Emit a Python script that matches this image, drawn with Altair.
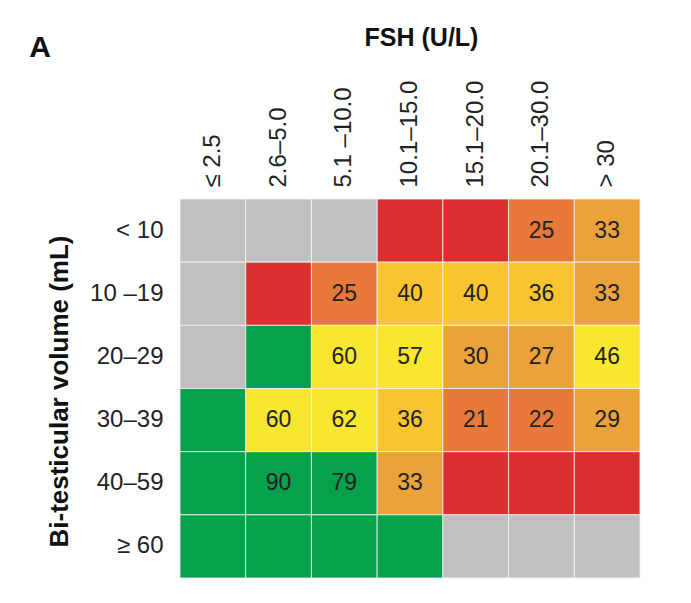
import altair as alt
import pandas as pd

fsh_bins = ["≤ 2.5", "2.6–5.0", "5.1 –10.0", "10.1–15.0", "15.1–20.0", "20.1–30.0", "> 30"]
volume_bins = ["< 10", "10 –19", "20–29", "30–39", "40–59", "≥ 60"]

# cell values (None = no number printed)
values = [
    [None, None, None, None, None, 25, 33],
    [None, None, 25, 40, 40, 36, 33],
    [None, None, 60, 57, 30, 27, 46],
    [None, 60, 62, 36, 21, 22, 29],
    [None, 90, 79, 33, None, None, None],
    [None, None, None, None, None, None, None],
]
# colour class of each cell
classes = [
    ["none", "none", "none", "red", "red", "dkorange", "orange"],
    ["none", "red", "dkorange", "ltorange", "ltorange", "ltorange", "orange"],
    ["none", "green", "yellow", "yellow", "orange", "orange", "yellow"],
    ["green", "yellow", "yellow", "ltorange", "dkorange", "dkorange", "orange"],
    ["green", "green", "green", "orange", "red", "red", "red"],
    ["green", "green", "green", "green", "none", "none", "none"],
]
class_names = ["none", "red", "dkorange", "orange", "ltorange", "yellow", "green"]
class_colors = ["#C0C0C0", "#DC2F32", "#E8793A", "#ECA23A", "#F9C42F", "#F9E62E", "#07A04C"]

rows = []
for i, v in enumerate(volume_bins):
    for j, f in enumerate(fsh_bins):
        val = values[i][j]
        rows.append({"fsh": f, "vol": v, "cls": classes[i][j],
                     "label": "" if val is None else str(val)})
df = pd.DataFrame(rows)

x = alt.X("fsh:N", sort=fsh_bins,
          scale=alt.Scale(domain=fsh_bins, paddingInner=0, paddingOuter=0),
          axis=alt.Axis(orient="top", title="FSH (U/L)", labelAngle=-90, labelPadding=12,
                        labelFontSize=24, labelColor="#222", ticks=False, domain=False,
                        titleFontSize=25, titleFontWeight="bold", titleColor="#111",
                        titleX=241, titleY=-149, titleAnchor="middle"))
y = alt.Y("vol:N", sort=volume_bins,
          scale=alt.Scale(domain=volume_bins, paddingInner=0, paddingOuter=0),
          axis=alt.Axis(title="Bi-testicular volume (mL)", labelPadding=17, labelFontSize=24,
                        labelColor="#222", ticks=False, domain=False,
                        titleFontSize=26, titleFontWeight="bold", titleColor="#111",
                        titleX=-108, titleY=192, titleAngle=-90, titleAnchor="middle"))

base = alt.Chart(df)
heat = base.mark_rect(stroke="#f4f4f4", strokeWidth=0.8).encode(
    x=x, y=y,
    color=alt.Color("cls:N", scale=alt.Scale(domain=class_names, range=class_colors), legend=None),
)
nums = base.mark_text(fontSize=23, color="#222", font="Liberation Sans").encode(
    x=alt.X("fsh:N", sort=fsh_bins), y=alt.Y("vol:N", sort=volume_bins), text="label:N"
)
panel = alt.Chart(pd.DataFrame({"t": ["A"]})).mark_text(
    fontSize=30, fontWeight="bold", color="#111", align="center", baseline="alphabetic",
    font="Liberation Sans"
).encode(text="t:N", x=alt.value(-140), y=alt.value(-142))

chart = alt.layer(heat, nums, panel).properties(
    width=460, height=379,
    autosize=alt.AutoSizeParams(type="none"),
    padding={"left": 172, "top": 191, "right": 40, "bottom": 15},
).configure_view(stroke=None).configure_axis(labelFont="Liberation Sans", titleFont="Liberation Sans")

chart.save("out.html", embed_options={"renderer": "svg", "actions": False})
